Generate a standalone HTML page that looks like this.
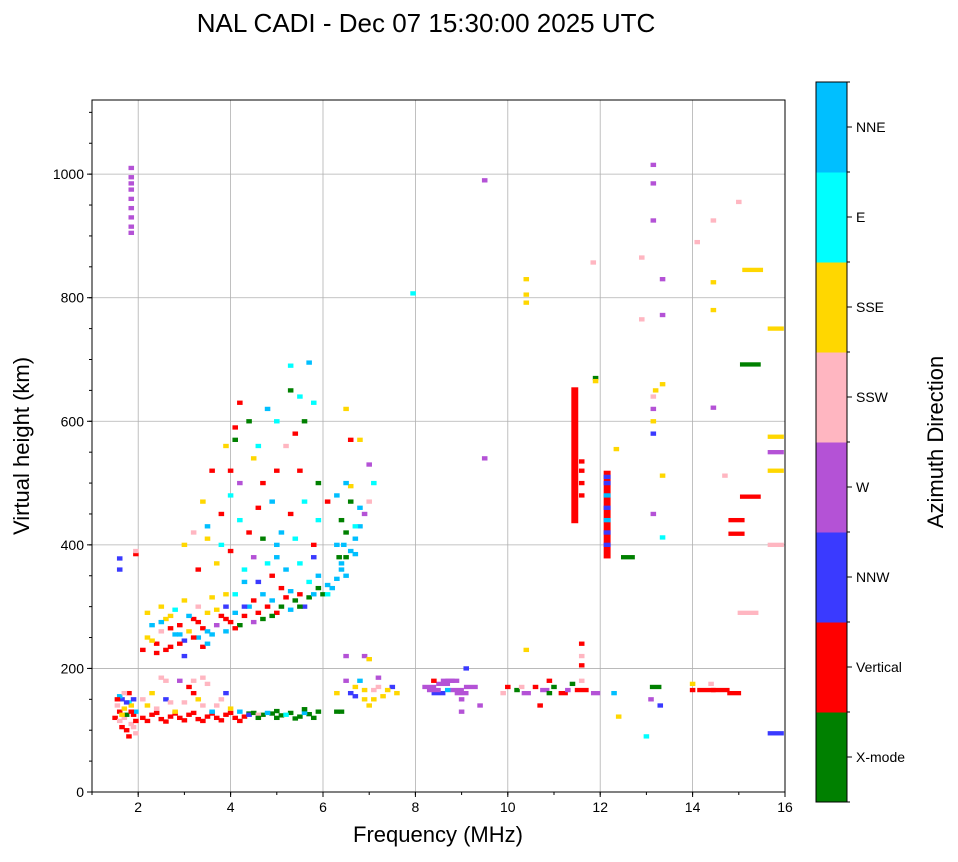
<!DOCTYPE html>
<html><head><meta charset="utf-8"><style>
body{margin:0;background:#fff;font-family:"Liberation Sans",sans-serif;}
svg text{font-family:"Liberation Sans",sans-serif;fill:#000;}
</style></head><body>
<svg id="chart" width="958" height="857" xmlns="http://www.w3.org/2000/svg">
<text x="426" y="32" font-size="26" text-anchor="middle">NAL CADI - Dec 07 15:30:00 2025 UTC</text>
<g id="grid"></g>
<g id="marks"></g>
<rect x="92" y="100" width="693" height="692" fill="none" stroke="#000" stroke-width="1"/>
<g id="axes"></g>
<text x="438" y="842" font-size="22" text-anchor="middle">Frequency (MHz)</text>
<text x="0" y="0" font-size="22" text-anchor="middle" transform="translate(29,446) rotate(-90)">Virtual height (km)</text>
<g id="cbar"></g>
<text x="0" y="0" font-size="22" text-anchor="middle" transform="translate(943,442) rotate(-90)">Azimuth Direction</text>
</svg>
<script>
const directions=["X-mode","Vertical","NNW","W","SSW","SSE","E","NNE"];
const dirColors=["#008000","#ff0000","#3a3aff","#b452d6","#ffb6c1","#ffd700","#00ffff","#00bfff"];
const xTicks=[2,4,6,8,10,12,14,16];
const yTicks=[0,200,400,600,800,1000];
// [freq MHz, height km, direction index, optional width MHz]
const eLayerEchoes=[[1.55,140,4],[1.6,130,1],[1.65,150,2],[1.7,120,4],[1.75,100,1],[1.8,145,6],[1.85,110,4],[1.9,125,1],[1.95,95,4],[1.6,155,7],[1.7,135,5],[1.8,160,1],[1.9,150,2],[1.75,125,0],[1.65,105,1],[1.85,140,5],[1.95,130,7],[1.5,120,1],[1.7,160,4],[1.9,105,4],[1.6,115,4],[1.8,90,1],[1.55,150,1],[1.75,145,2],[1.95,115,1],[1.65,125,5],[1.85,130,1],
[2.1,120,1],[2.3,125,1],[2.5,118,1],[2.7,122,1],[2.9,120,1],[3.1,125,1],[3.3,118,1],[3.5,122,1],[3.7,120,1],[3.9,125,1],[4.1,120,1],[4.3,122,1],[2.2,115,1],[2.4,128,1],[2.6,114,1],[2.8,127,1],[3.0,116,1],[3.2,128,1],[3.4,115,1],[3.6,127,1],[3.8,116,1],[4.0,128,1],[4.2,115,1],[4.4,127,0],
[2.2,140,5],[2.4,135,4],[2.6,150,2],[2.8,130,5],[3.0,145,4],[3.2,160,1],[3.4,140,4],[3.6,130,7],[3.8,150,4],[4.0,135,5],[2.5,185,4],[2.9,180,3],[3.1,170,1],[3.5,175,4],[4.2,130,7],[4.4,125,2],[2.1,150,4],[2.3,160,5],[2.7,145,4],[3.3,150,5],[3.7,140,4],[3.9,160,2],[2.6,180,4],[3.2,180,4],[3.4,185,4],
[4.5,128,0],[4.7,125,0],[4.9,127,0],[5.1,124,0],[5.3,128,0],[5.5,122,0],[5.7,126,0],[5.9,130,0],[4.8,128,7],[5.2,125,6],[5.6,128,7],[4.6,125,4],[4.6,120,0],[5.0,131,0],[5.4,119,0],[5.8,120,0],[5.0,120,0],[5.6,134,0],
[6.3,160,5],[6.5,180,3],[6.7,170,5],[6.9,150,5],[7.1,165,4],[7.3,155,5],[7.5,170,2],[7.6,160,5],[6.4,130,0],[6.8,180,7],[7.0,140,5],[7.2,185,3],[6.6,160,2],[6.5,220,3],[6.9,220,3],[7.0,215,5],[7.2,170,4],[6.7,155,2],[6.9,165,5],[7.1,150,5],[7.4,165,5],[6.3,130,0],
[8.3,170,3,0.3],[8.6,175,3,0.3],[8.9,165,3,0.3],[9.2,170,3,0.3],[8.5,160,2,0.3],[8.8,180,3,0.3],[9.0,150,3],[9.0,130,3],[9.1,200,2],[9.4,140,3],[8.4,180,1],[8.7,165,7],[8.4,165,3,0.3],[9.0,160,3,0.3],[8.7,180,3,0.3],
[9.9,160,4],[10.0,170,1],[10.2,165,0],[10.4,160,3,0.2],[10.6,170,1],[10.8,165,3,0.2],[11.0,170,0],[11.2,160,1,0.2],[11.4,175,0],[11.6,165,1,0.3],[11.9,160,3,0.2],[10.7,140,1],[10.9,180,1],[11.6,180,4],[10.3,170,4],[10.9,160,0],[11.3,165,3],
[12.3,160,7],[12.4,122,5],[13.2,170,0,0.25],[13.1,150,3],[13.0,90,6],[13.3,140,2],[14.0,165,1],[14.3,165,1,0.4],[14.6,165,1,0.4],[14.9,160,1,0.3],[14.0,175,5],[14.4,175,4],[15.8,95,2,0.35]];
const fLayerEchoes=[[2.1,230,1],[2.2,250,5],[2.3,270,7],[2.4,240,1],[2.5,260,4],[2.6,280,5],[2.7,235,1],[2.8,255,7],[2.9,270,1],[3.0,245,2],[3.1,260,5],[3.2,280,1],[3.3,250,7],[3.4,265,1],[3.5,290,5],[3.6,255,7],[3.7,270,3],[3.8,285,1],[3.9,260,7],[4.0,275,1],[4.1,290,7],[4.2,270,0],[4.3,285,1],[4.4,300,7],[4.5,275,3],[4.6,290,1],[4.7,280,0],[4.8,300,1],[4.9,310,7],[5.0,290,1],[5.1,300,0],[5.2,315,1],[5.3,295,7],[5.4,310,0],[5.5,320,1],[5.6,300,2],[5.7,315,0],[5.8,320,7],[5.9,330,0],[6.0,320,0],[6.1,335,7],[6.2,330,7],[6.3,345,7],[6.4,360,7],[6.35,380,0],[6.45,400,7],[6.5,420,0],[6.6,390,7],[6.7,410,7],[6.8,430,7],[6.9,450,3],[7.0,470,4],[7.1,500,6],[7.0,530,3],[6.6,495,5],[6.3,480,7],[6.4,370,7],[6.5,350,7],[6.7,385,7],
[2.2,290,5],[2.5,300,5],[2.8,295,6],[3.0,310,5],[3.3,300,4],[3.6,315,5],[3.9,320,5],[2.4,225,1],[2.9,240,1],[3.4,235,1],[2.6,230,1],[3.0,220,2],[3.5,240,7],[3.2,250,1],[2.7,265,1],[3.9,300,2],[4.1,320,6],[4.3,340,7],[4.6,340,2],[4.9,350,1],[5.2,360,7],[5.5,370,6],[5.0,380,7],[5.8,380,2],
[2.3,245,5],[2.5,275,7],[2.7,285,5],[2.9,255,7],[3.1,285,7],[3.3,275,1],[3.5,260,7],[3.7,295,5],[3.9,280,1],[4.1,265,1],[4.3,300,2],[4.5,310,1],[4.7,320,7],[4.9,285,0],[5.1,330,1],[5.3,325,7],[5.5,300,0],[5.7,340,6],[5.9,350,7],[6.1,320,6],[6.3,400,7],[6.5,380,0],[6.7,430,6],[6.8,460,7],[6.4,440,0],[6.6,470,0],[6.5,500,7]];
const spreadEchoes=[[3.0,400,5],[3.2,420,4],[3.5,430,7],[3.8,450,1],[4.0,480,6],[4.2,500,3],[3.4,470,5],[3.6,520,1],[3.9,560,5],[4.1,590,1],[4.2,630,1],[4.4,600,0],[4.8,620,7],[5.0,600,6],[5.3,650,0],[5.5,640,6],[5.8,630,6],[5.2,560,4],[5.5,520,1],[4.5,540,5],[4.7,500,1],[4.9,470,7],[5.3,450,1],[5.6,470,6],[5.9,440,6],[4.4,420,1],[4.0,390,1],[4.7,410,0],[5.1,420,7],[3.3,360,1],[3.7,370,5],[4.5,380,3],[5.7,695,7],[5.3,690,6],[6.5,620,5],[6.6,570,1],[6.1,470,1],[5.9,500,0],[6.8,570,5],
[3.8,400,6],[4.2,440,6],[4.6,460,1],[5.0,400,7],[5.4,410,6],[5.8,400,1],[4.3,360,6],[4.8,370,6],[3.5,410,5],[4.0,520,1],[4.6,560,6],[5.0,520,1],[5.4,580,1],[4.1,570,0],[5.6,600,0]];
const highEchoes=[[1.85,905,3],[1.85,930,3],[1.85,960,3],[1.85,985,3],[1.85,1010,3],[1.85,945,3],[1.85,975,3],[1.85,995,3],[1.85,915,3],[1.6,360,2],[1.6,378,2],[1.95,385,1],[1.95,390,4],
[7.95,807,6],[9.5,990,3],[9.5,540,3],[10.4,830,5],[10.4,805,5],[10.4,792,5],[10.4,230,5],[11.85,857,4],[11.9,670,0],[11.9,665,5],[12.35,555,5],[12.6,380,0,0.3],[12.9,865,4],[12.9,765,4],[13.15,1015,3],[13.15,985,3],[13.15,925,3],[13.2,650,5],[13.15,640,4],[13.15,620,3],[13.15,600,5],[13.15,580,2],[13.15,450,3],[13.35,830,3],[13.35,772,3],[13.35,660,5],[13.35,512,5],[13.35,412,6],[14.1,890,4],[14.45,925,4],[14.45,825,5],[14.45,780,5],[14.45,622,3],[14.7,512,4],[15.0,955,4],[14.95,440,1,0.35],[14.95,418,1,0.35],[15.3,845,5,0.45],[15.25,692,0,0.45],[15.25,478,1,0.45],[15.2,290,4,0.45],[15.8,750,5,0.35],[15.8,575,5,0.35],[15.8,550,3,0.35],[15.8,520,5,0.35],[15.8,400,4,0.35],
[11.6,240,1],[11.6,220,4],[11.6,205,1],[11.6,535,1],[11.6,520,1],[11.6,500,1],[11.6,480,1],
[12.15,400,2],[12.15,420,2],[12.15,440,7],[12.15,460,2],[12.15,480,7],[12.15,500,2],[12.15,510,2]];
// [freq, h0, h1, dir, width]
const columnEchoes=[[11.45,435,655,1,0.15],[12.15,378,520,1,0.15]];

const NS="http://www.w3.org/2000/svg";
const X0=92,X1=785,Y0=792,Y1=100,FMIN=1,FMAX=16,HMIN=0,HMAX=1120;
const xs=f=>X0+(f-FMIN)/(FMAX-FMIN)*(X1-X0);
const ys=h=>Y0-(h-HMIN)/(HMAX-HMIN)*(Y0-Y1);
function mk(tag,attrs,parent){const e=document.createElementNS(NS,tag);for(const k in attrs)e.setAttribute(k,attrs[k]);parent.appendChild(e);return e;}
const grid=document.getElementById('grid'),axes=document.getElementById('axes'),marks=document.getElementById('marks'),cbar=document.getElementById('cbar');
xTicks.forEach(v=>{
  const l=mk('line',{x1:xs(v),x2:xs(v),y1:Y1,y2:Y0,stroke:'#b0b0b0','stroke-width':0.8},grid);
  
  
  mk('line',{x1:xs(v),x2:xs(v),y1:Y0,y2:Y0+5,stroke:'#000'},axes);
  const t=mk('text',{x:xs(v),y:Y0+20,'font-size':14,'text-anchor':'middle'},axes);t.textContent=v;
  
  
});
for(let v=1;v<=16;v+=1){mk('line',{x1:xs(v),x2:xs(v),y1:Y0,y2:Y0+3,stroke:'#000'},axes);}
yTicks.forEach(v=>{
  const l=mk('line',{x1:X0,x2:X1,y1:ys(v),y2:ys(v),stroke:'#b0b0b0','stroke-width':0.8},grid);
  
  
  mk('line',{x1:X0-5,x2:X0,y1:ys(v),y2:ys(v),stroke:'#000'},axes);
  const t=mk('text',{x:X0-8,y:ys(v)+5,'font-size':14,'text-anchor':'end'},axes);t.textContent=v;
  
  
});
for(let v=0;v<=1100;v+=50){mk('line',{x1:X0-3,x2:X0,y1:ys(v),y2:ys(v),stroke:'#000'},axes);}
const H=7;
[eLayerEchoes,fLayerEchoes,spreadEchoes,highEchoes].forEach(arr=>arr.forEach(p=>{
  const w=p[3]||0.12;
  const r=mk('rect',{x:xs(p[0]-w/2),y:ys(p[1]+H/2),width:xs(p[0]+w/2)-xs(p[0]-w/2),height:ys(0)-ys(H),fill:dirColors[p[2]]},marks);
  
  
}));
columnEchoes.forEach(c=>{
  const r=mk('rect',{x:xs(c[0]-c[4]/2),y:ys(c[2]),width:xs(c[0]+c[4]/2)-xs(c[0]-c[4]/2),height:ys(c[1])-ys(c[2]),fill:dirColors[c[3]]},marks);
  
  
});
highEchoes.filter(p=>p[0]===12.15).forEach(p=>{
  const r=mk('rect',{x:xs(12.075),y:ys(p[1]+H/2),width:xs(12.225)-xs(12.075),height:ys(0)-ys(H),fill:dirColors[p[2]]},marks);
  
  
});
const CB0=802,CB1=82,CX=816,CW=31,bh=(CB0-CB1)/directions.length;
directions.forEach((d,i)=>{
  const y=CB0-(i+1)*bh;
  const r=mk('rect',{x:CX,y:y,width:CW,height:bh+0.5,fill:dirColors[i]},cbar);
  
  
  mk('line',{x1:CX+CW,x2:CX+CW+5,y1:y+bh/2,y2:y+bh/2,stroke:'#000'},cbar);
  const t=mk('text',{x:CX+CW+9,y:y+bh/2+5,'font-size':14},cbar);t.textContent=d;
  
  
});
for(let i=0;i<=directions.length;i++){mk('line',{x1:CX+CW,x2:CX+CW+3,y1:CB0-i*bh,y2:CB0-i*bh,stroke:'#000'},cbar);}
mk('rect',{x:CX,y:CB1,width:CW,height:CB0-CB1,fill:'none',stroke:'#000'},cbar);
</script>
</body></html>
